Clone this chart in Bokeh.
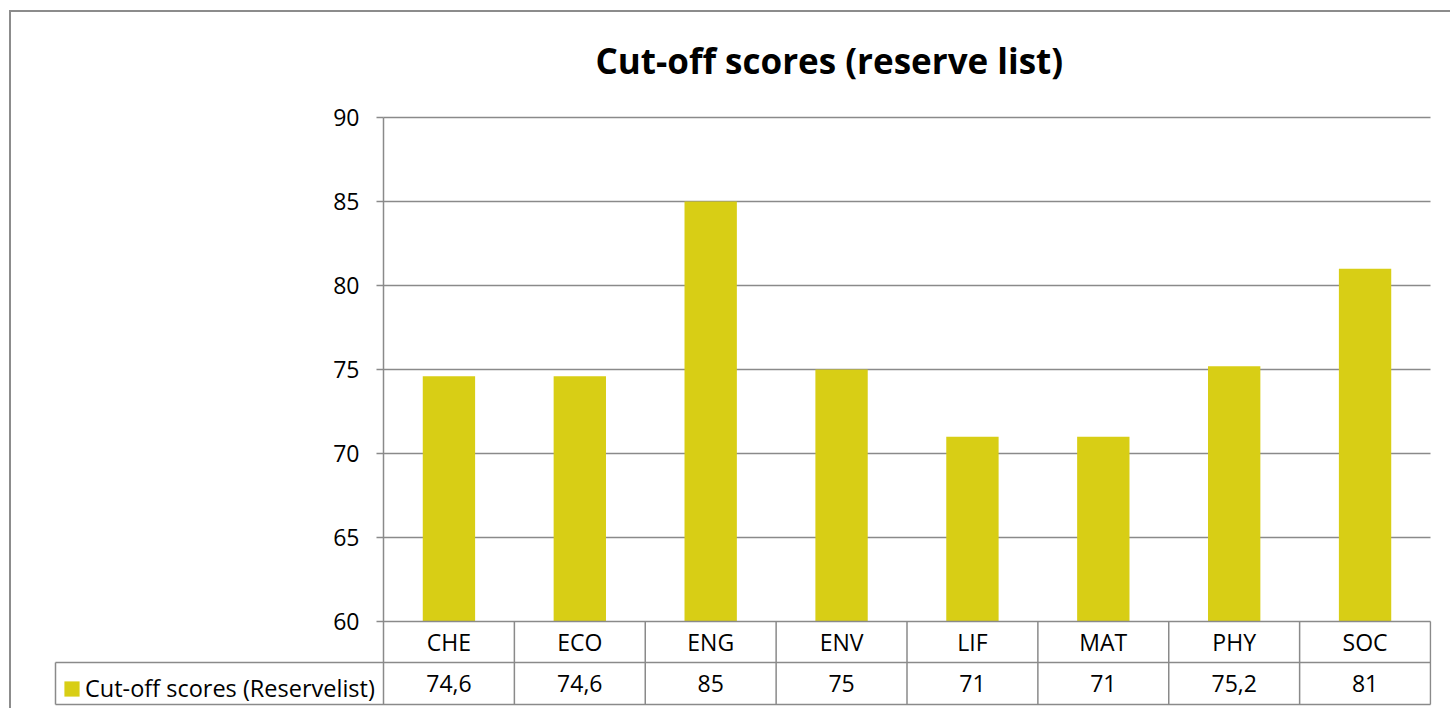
from bokeh.plotting import figure
from bokeh.models import FixedTicker, Range1d, Legend, LegendItem, ColumnDataSource, LinearAxis
from bokeh.core.properties import value
from bokeh.embed import file_html
from bokeh.resources import INLINE

# ---------------- data ----------------
categories = ["CHE", "ECO", "ENG", "ENV", "LIF", "MAT", "PHY", "SOC"]
scores = [74.6, 74.6, 85, 75, 71, 71, 75.2, 81]
y_ticks = [60, 65, 70, 75, 80, 85, 90]
series_name = "Cut-off scores (Reservelist)"
title_text = "Cut-off scores (reserve list)"

# ---------------- layout (figure pixels) ----------------
W, H = 1450, 708
plot_left, plot_right = 383, 1430
plot_top, plot_bottom = 117, 621
row1_bottom, table_bottom = 662, 704
legend_left = 55
frame_left, frame_right = legend_left - 2, plot_right + 1
frame_top, frame_bottom = 95, table_bottom + 2

FONT = "Open Sans"
FS = "23px"
GREY = "#8a8a8a"
BAR = "#D8CE15"

n = len(categories)
ymin, ymax = y_ticks[0], y_ticks[-1]
ppu_y = (plot_bottom - plot_top) / (ymax - ymin)
ppu_x = (plot_right - plot_left) / n


def y_of(py):
    return ymin + (plot_bottom - py) / ppu_y


def x_of(px):
    return (px - plot_left) / ppu_x


def fmt(v):
    return str(int(v)) if float(v).is_integer() else str(v).replace(".", ",")


p = figure(width=W, height=H, output_backend="svg", toolbar_location=None,
           x_range=Range1d(x_of(frame_left), x_of(frame_right)),
           y_range=Range1d(y_of(frame_bottom), y_of(frame_top)),
           x_axis_location=None, y_axis_location=None,
           min_border_left=frame_left,
           min_border_right=W - frame_right,
           min_border_top=frame_top,
           min_border_bottom=H - frame_bottom)
p.outline_line_color = None
p.border_fill_color = None
p.background_fill_color = None
for g in p.grid:
    g.visible = False
# chart-area border (left and top edges, rest is outside the view)
p.styles = {
    "background": "linear-gradient(#8c8c8c, #8c8c8c) 9px 10px / 2px 100% no-repeat, "
                  "linear-gradient(#8c8c8c, #8c8c8c) 9px 10px / 100% 2px no-repeat"
}

# y axis, pinned at x = 0 (the left edge of the plot area)
ax = LinearAxis(fixed_location=0)
ax.ticker = FixedTicker(ticks=y_ticks)
ax.bounds = (ymin, ymax)
ax.axis_line_color = None
ax.major_tick_out = 7
ax.major_tick_in = 0
ax.major_tick_line_color = GREY
ax.major_tick_line_width = 1.5
ax.minor_tick_line_color = None
ax.major_label_standoff = 17
ax.major_label_text_font = FONT
ax.major_label_text_font_size = FS
ax.major_label_text_color = "black"
p.add_layout(ax, "left")

# horizontal gridlines at the tick values
gy = y_ticks[1:]
p.segment(x0=[0] * len(gy), y0=gy, x1=[n] * len(gy), y1=gy,
          line_color=GREY, line_width=1.5)

# bars
src = ColumnDataSource(dict(
    x=[i + 0.5 for i in range(n)], top=scores, cat=categories,
    label=[fmt(v) for v in scores]))
bars = p.vbar(x="x", top="top", bottom=ymin, width=0.4, source=src,
              fill_color=BAR, line_color=None)

# data table lines
y_r1 = y_of(row1_bottom)
y_tb = y_of(table_bottom)
x_leg = x_of(legend_left)
p.segment(x0=[0, x_leg, x_leg], y0=[ymin, y_r1, y_tb],
          x1=[n, n, n], y1=[ymin, y_r1, y_tb], line_color=GREY, line_width=1.5)
vx = [x_leg] + list(range(n + 1))
vy0 = [y_tb] * (n + 2)
vy1 = [y_r1, ymax] + [ymin] * n
p.segment(x0=vx, y0=vy0, x1=vx, y1=vy1, line_color=GREY, line_width=1.5)

# table texts
p.text(x="x", y=(ymin + y_r1) / 2, text="cat", source=src,
       text_align="center", text_baseline="middle",
       text_font=value(FONT), text_font_size=FS, text_color="black")
p.text(x="x", y=(y_r1 + y_tb) / 2, text="label", source=src,
       text_align="center", text_baseline="middle",
       text_font=value(FONT), text_font_size=FS, text_color="black")

# legend key of the data table (inside the table's first cell)
legend = Legend(items=[LegendItem(label=series_name, renderers=[bars])],
                location=(legend_left + 7 - frame_left, frame_bottom - table_bottom),
                glyph_width=19, glyph_height=19, padding=5, spacing=0,
                label_standoff=4, margin=0,
                label_text_font=FONT, label_text_font_size="23.5px",
                label_text_color="black",
                border_line_color=None, background_fill_alpha=0.0)
p.add_layout(legend)

# title
p.title.text = title_text
p.title.align = "left"
p.title.offset = 595 - frame_left
p.title.text_font = FONT
p.title.text_font_style = "bold"
p.title.text_font_size = "35px"
p.title.text_color = "black"
p.title.standoff = 24

open("out.html", "w").write(file_html(p, INLINE))
